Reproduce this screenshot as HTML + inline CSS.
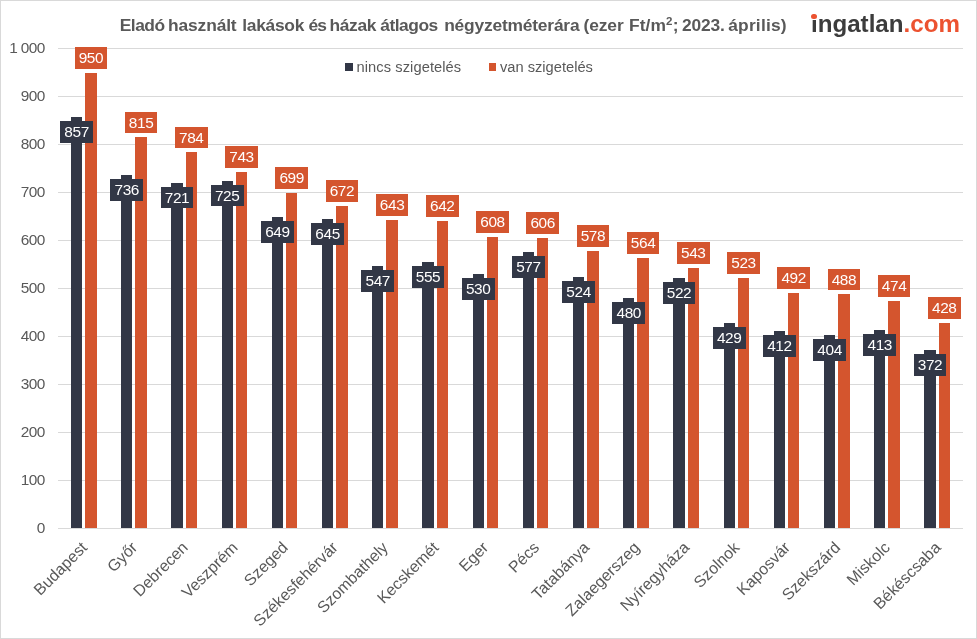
<!DOCTYPE html>
<html lang="hu"><head><meta charset="utf-8"><title>Eladó használt lakások és házak átlagos négyzetméterára</title>
<style>
html,body{margin:0;padding:0;background:#fff;}
body{width:977px;height:639px;overflow:hidden;position:relative;font-family:"Liberation Sans",sans-serif;color:#595959;}
#c{position:absolute;left:0;top:0;width:975px;height:637px;border:1px solid #d9d9d9;background:#fff;}
.g{position:absolute;left:58px;width:905px;height:1px;background:#d9d9d9;}
.y{position:absolute;left:0;width:44.7px;text-align:right;font-size:15.4px;letter-spacing:-0.6px;line-height:16px;height:16px;white-space:pre;}
.b{position:absolute;}
.d{background:#323746;}
.o{background:#d4552e;}
.l{position:absolute;height:21.8px;line-height:21.2px;font-size:15.4px;letter-spacing:-0.4px;color:#fff;text-align:center;}
.x{position:absolute;font-size:16px;line-height:18px;height:18px;white-space:nowrap;transform-origin:100% 50%;transform:rotate(-45deg);}
#t{position:absolute;left:120px;top:15px;font-size:17.4px;letter-spacing:-0.3px;font-weight:bold;line-height:20px;white-space:nowrap;color:#595959;}
#t span{position:absolute;top:0;}
#t sup{font-size:11.5px;line-height:0;vertical-align:6px;letter-spacing:0.3px;}
.lg{position:absolute;top:57.5px;font-size:14.67px;line-height:18px;white-space:nowrap;}
.sq{position:absolute;top:63px;width:8px;height:8px;}
#logo{position:absolute;left:811.3px;top:9px;font-size:24.5px;line-height:30px;font-weight:bold;color:#3c3c3c;white-space:nowrap;transform-origin:0 0;transform:scaleX(0.985);}
#logo span{color:#ec5230;}
</style></head><body><div id="c"></div>

<div class="g" style="top:528px"></div>
<div class="y" style="top:519.5px">0</div>
<div class="g" style="top:480px"></div>
<div class="y" style="top:471.5px">100</div>
<div class="g" style="top:432px"></div>
<div class="y" style="top:423.5px">200</div>
<div class="g" style="top:384px"></div>
<div class="y" style="top:375.5px">300</div>
<div class="g" style="top:336px"></div>
<div class="y" style="top:327.5px">400</div>
<div class="g" style="top:288px"></div>
<div class="y" style="top:279.5px">500</div>
<div class="g" style="top:240px"></div>
<div class="y" style="top:231.5px">600</div>
<div class="g" style="top:192px"></div>
<div class="y" style="top:183.5px">700</div>
<div class="g" style="top:144px"></div>
<div class="y" style="top:135.5px">800</div>
<div class="g" style="top:96px"></div>
<div class="y" style="top:87.5px">900</div>
<div class="g" style="top:48px"></div>
<div class="y" style="top:39.5px">1 000</div>
<div class="b d" style="left:71.00px;top:117.32px;width:11.2px;height:410.68px"></div>
<div class="b o" style="left:85.20px;top:72.68px;width:11.4px;height:455.32px"></div>
<div class="b d" style="left:121.20px;top:175.40px;width:11.2px;height:352.60px"></div>
<div class="b o" style="left:135.40px;top:137.48px;width:11.4px;height:390.52px"></div>
<div class="b d" style="left:171.40px;top:182.60px;width:11.2px;height:345.40px"></div>
<div class="b o" style="left:185.60px;top:152.36px;width:11.4px;height:375.64px"></div>
<div class="b d" style="left:221.60px;top:180.68px;width:11.2px;height:347.32px"></div>
<div class="b o" style="left:235.80px;top:172.04px;width:11.4px;height:355.96px"></div>
<div class="b d" style="left:271.80px;top:217.16px;width:11.2px;height:310.84px"></div>
<div class="b o" style="left:286.00px;top:193.16px;width:11.4px;height:334.84px"></div>
<div class="b d" style="left:322.00px;top:219.08px;width:11.2px;height:308.92px"></div>
<div class="b o" style="left:336.20px;top:206.12px;width:11.4px;height:321.88px"></div>
<div class="b d" style="left:372.20px;top:266.12px;width:11.2px;height:261.88px"></div>
<div class="b o" style="left:386.40px;top:220.04px;width:11.4px;height:307.96px"></div>
<div class="b d" style="left:422.40px;top:262.28px;width:11.2px;height:265.72px"></div>
<div class="b o" style="left:436.60px;top:220.52px;width:11.4px;height:307.48px"></div>
<div class="b d" style="left:472.60px;top:274.28px;width:11.2px;height:253.72px"></div>
<div class="b o" style="left:486.80px;top:236.84px;width:11.4px;height:291.16px"></div>
<div class="b d" style="left:522.80px;top:251.72px;width:11.2px;height:276.28px"></div>
<div class="b o" style="left:537.00px;top:237.80px;width:11.4px;height:290.20px"></div>
<div class="b d" style="left:573.00px;top:277.16px;width:11.2px;height:250.84px"></div>
<div class="b o" style="left:587.20px;top:251.24px;width:11.4px;height:276.76px"></div>
<div class="b d" style="left:623.20px;top:298.28px;width:11.2px;height:229.72px"></div>
<div class="b o" style="left:637.40px;top:257.96px;width:11.4px;height:270.04px"></div>
<div class="b d" style="left:673.40px;top:278.12px;width:11.2px;height:249.88px"></div>
<div class="b o" style="left:687.60px;top:268.04px;width:11.4px;height:259.96px"></div>
<div class="b d" style="left:723.60px;top:322.76px;width:11.2px;height:205.24px"></div>
<div class="b o" style="left:737.80px;top:277.64px;width:11.4px;height:250.36px"></div>
<div class="b d" style="left:773.80px;top:330.92px;width:11.2px;height:197.08px"></div>
<div class="b o" style="left:788.00px;top:292.52px;width:11.4px;height:235.48px"></div>
<div class="b d" style="left:824.00px;top:334.76px;width:11.2px;height:193.24px"></div>
<div class="b o" style="left:838.20px;top:294.44px;width:11.4px;height:233.56px"></div>
<div class="b d" style="left:874.20px;top:330.44px;width:11.2px;height:197.56px"></div>
<div class="b o" style="left:888.40px;top:301.16px;width:11.4px;height:226.84px"></div>
<div class="b d" style="left:924.40px;top:350.12px;width:11.2px;height:177.88px"></div>
<div class="b o" style="left:938.60px;top:323.24px;width:11.4px;height:204.76px"></div>
<div class="l d" style="left:60.20px;top:121.32px;width:32.8px">857</div>
<div class="l o" style="left:74.65px;top:46.88px;width:32.5px">950</div>
<div class="l d" style="left:110.40px;top:179.40px;width:32.8px">736</div>
<div class="l o" style="left:124.85px;top:111.68px;width:32.5px">815</div>
<div class="l d" style="left:160.60px;top:186.60px;width:32.8px">721</div>
<div class="l o" style="left:175.05px;top:126.56px;width:32.5px">784</div>
<div class="l d" style="left:210.80px;top:184.68px;width:32.8px">725</div>
<div class="l o" style="left:225.25px;top:146.24px;width:32.5px">743</div>
<div class="l d" style="left:261.00px;top:221.16px;width:32.8px">649</div>
<div class="l o" style="left:275.45px;top:167.36px;width:32.5px">699</div>
<div class="l d" style="left:311.20px;top:223.08px;width:32.8px">645</div>
<div class="l o" style="left:325.65px;top:180.32px;width:32.5px">672</div>
<div class="l d" style="left:361.40px;top:270.12px;width:32.8px">547</div>
<div class="l o" style="left:375.85px;top:194.24px;width:32.5px">643</div>
<div class="l d" style="left:411.60px;top:266.28px;width:32.8px">555</div>
<div class="l o" style="left:426.05px;top:194.72px;width:32.5px">642</div>
<div class="l d" style="left:461.80px;top:278.28px;width:32.8px">530</div>
<div class="l o" style="left:476.25px;top:211.04px;width:32.5px">608</div>
<div class="l d" style="left:512.00px;top:255.72px;width:32.8px">577</div>
<div class="l o" style="left:526.45px;top:212.00px;width:32.5px">606</div>
<div class="l d" style="left:562.20px;top:281.16px;width:32.8px">524</div>
<div class="l o" style="left:576.65px;top:225.44px;width:32.5px">578</div>
<div class="l d" style="left:612.40px;top:302.28px;width:32.8px">480</div>
<div class="l o" style="left:626.85px;top:232.16px;width:32.5px">564</div>
<div class="l d" style="left:662.60px;top:282.12px;width:32.8px">522</div>
<div class="l o" style="left:677.05px;top:242.24px;width:32.5px">543</div>
<div class="l d" style="left:712.80px;top:326.76px;width:32.8px">429</div>
<div class="l o" style="left:727.25px;top:251.84px;width:32.5px">523</div>
<div class="l d" style="left:763.00px;top:334.92px;width:32.8px">412</div>
<div class="l o" style="left:777.45px;top:266.72px;width:32.5px">492</div>
<div class="l d" style="left:813.20px;top:338.76px;width:32.8px">404</div>
<div class="l o" style="left:827.65px;top:268.64px;width:32.5px">488</div>
<div class="l d" style="left:863.40px;top:334.44px;width:32.8px">413</div>
<div class="l o" style="left:877.85px;top:275.36px;width:32.5px">474</div>
<div class="l d" style="left:913.60px;top:354.12px;width:32.8px">372</div>
<div class="l o" style="left:928.05px;top:297.44px;width:32.5px">428</div>
<div class="x" style="right:892.50px;top:536px">Budapest</div>
<div class="x" style="right:842.30px;top:536px">Győr</div>
<div class="x" style="right:792.10px;top:536px">Debrecen</div>
<div class="x" style="right:741.90px;top:536px">Veszprém</div>
<div class="x" style="right:691.70px;top:536px">Szeged</div>
<div class="x" style="right:641.50px;top:536px">Székesfehérvár</div>
<div class="x" style="right:591.30px;top:536px">Szombathely</div>
<div class="x" style="right:541.10px;top:536px">Kecskemét</div>
<div class="x" style="right:490.90px;top:536px">Eger</div>
<div class="x" style="right:440.70px;top:536px">Pécs</div>
<div class="x" style="right:390.50px;top:536px">Tatabánya</div>
<div class="x" style="right:340.30px;top:536px">Zalaegerszeg</div>
<div class="x" style="right:290.10px;top:536px">Nyíregyháza</div>
<div class="x" style="right:239.90px;top:536px">Szolnok</div>
<div class="x" style="right:189.70px;top:536px">Kaposvár</div>
<div class="x" style="right:139.50px;top:536px">Szekszárd</div>
<div class="x" style="right:89.30px;top:536px">Miskolc</div>
<div class="x" style="right:39.10px;top:536px">Békéscsaba</div>
<div id="t"><span style="left:-0.3px;letter-spacing:-0.50px">Eladó</span> <span style="left:48.1px;letter-spacing:-0.15px">használt</span> <span style="left:122.3px;letter-spacing:-0.30px">lakások</span> <span style="left:188.6px;letter-spacing:-1.10px">és</span> <span style="left:209.4px;letter-spacing:-0.30px">házak</span> <span style="left:260.3px;letter-spacing:-0.50px">átlagos</span> <span style="left:324.2px;letter-spacing:-0.20px">négyzetméterára</span> <span style="left:463.5px;letter-spacing:-0.10px">(ezer</span> <span style="left:509.0px;letter-spacing:0.10px">Ft/m<sup>2</sup>;</span> <span style="left:562.0px;letter-spacing:-0.20px">2023.</span> <span style="left:608.2px;letter-spacing:0.20px">április)</span></div>
<div class="sq d" style="left:345px"></div><div class="lg" style="left:356.5px;letter-spacing:0.08px">nincs szigetelés</div>
<div class="sq o" style="left:489px;width:7px"></div><div class="lg" style="left:500px">van szigetelés</div>
<div id="logo">ingatlan<span>.com</span></div>
<div style="position:absolute;left:810px;top:9px;width:9px;height:11px;background:#fff"></div><div style="position:absolute;left:811.4px;top:13.9px;width:5.6px;height:5.6px;border-radius:50%;background:#ec5230"></div>
</body></html>
